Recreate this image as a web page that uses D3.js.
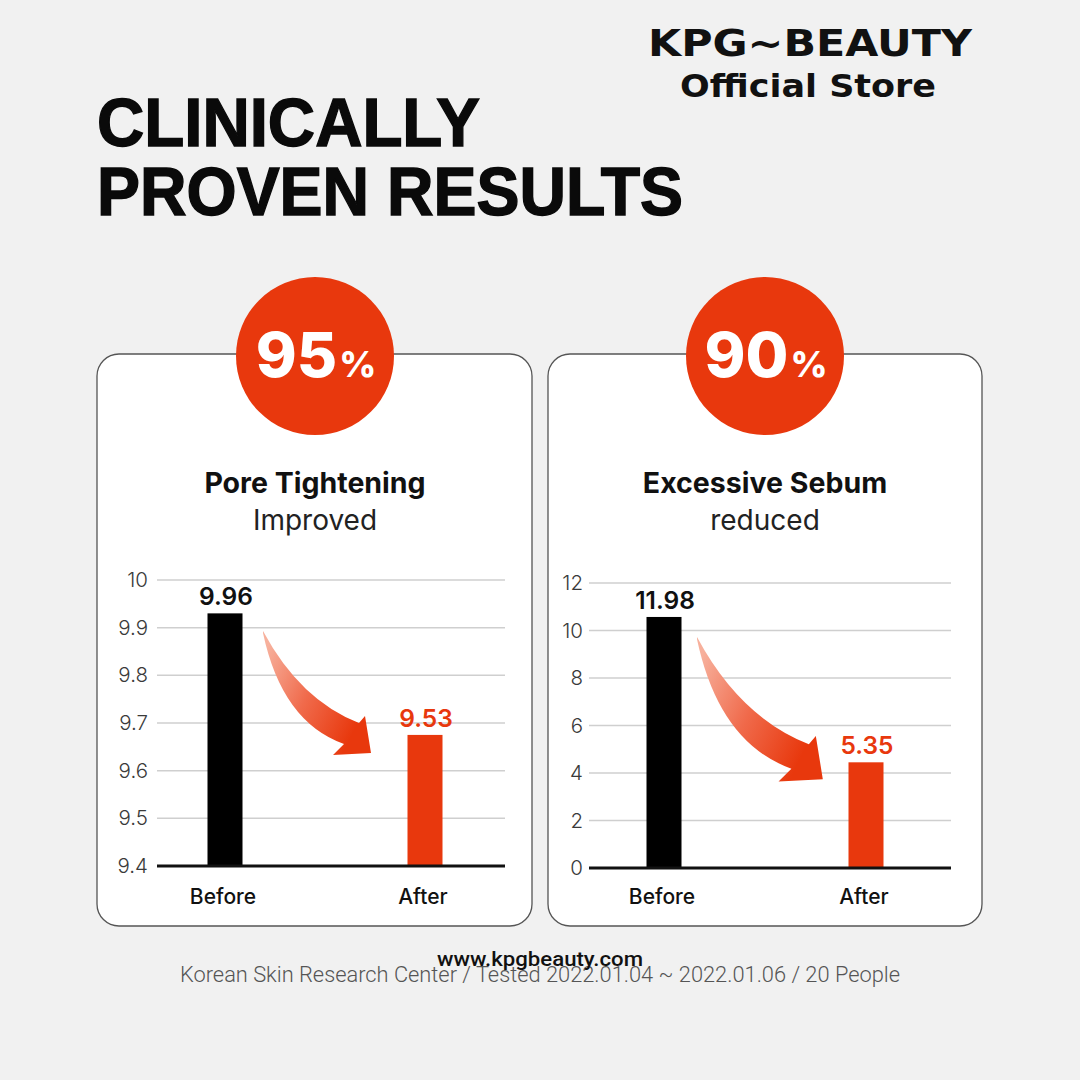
<!DOCTYPE html>
<html>
<head>
<meta charset="utf-8">
<script src="https://cdn.jsdelivr.net/npm/d3@7"></script>
<style>
  body { margin: 0; background: #f1f1f1; }
</style>
</head>
<body>
<div id="chart"></div>
<script>
// data
const categories = ['Before', 'After'];
const panelTitles = ['Pore Tightening', 'Excessive Sebum'];
const panelSubtitles = ['Improved', 'reduced'];
const percentValues = ['95', '90'];

// bar heights as drawn, and the numbers printed above them
const poreBars = [9.93, 9.675];
const poreLabels = ['9.96', '9.53'];
const poreTicks = [9.4, 9.5, 9.6, 9.7, 9.8, 9.9, 10];

const sebumBars = [10.57, 4.45];
const sebumLabels = ['11.98', '5.35'];
const sebumTicks = [0, 2, 4, 6, 8, 10, 12];

const RED = '#e8380d';
const W = 1080, H = 1080;

// layout of the two cards
const panels = [
  {x: 97, w: 435, cx: 315, grid: [157, 505], yr: [866, 580], pts: [225, 425],
    tickX: 148, domain: [9.4, 10], ticks: poreTicks, bars: poreBars,
    labels: poreLabels, arrow: {x: 263, y: 631, s: 1}},
  {x: 548, w: 434, cx: 765, grid: [589, 951], yr: [868, 583], pts: [664, 866],
    tickX: 583, domain: [0, 12], ticks: sebumTicks, bars: sebumBars,
    labels: sebumLabels, arrow: {x: 697, y: 637, s: 1.165}},
];

const svg = d3.select('#chart').append('svg')
  .attr('width', W)
  .attr('height', H);

svg.append('rect')
  .attr('width', W).attr('height', H)
  .attr('fill', '#f1f1f1');

let grad = svg.append('defs').append('linearGradient')
  .attr('id', 'arrowGrad')
  .attr('x1', 0).attr('y1', 0.2).attr('x2', 0.9).attr('y2', 0.7);
grad.append('stop').attr('offset', 0).attr('stop-color', '#f7b09c');
grad.append('stop').attr('offset', 0.5).attr('stop-color', '#f06a4b');
grad.append('stop').attr('offset', 1).attr('stop-color', RED);

// brand text top right
svg.append('text')
  .attr('x', 648).attr('y', 56)
  .attr('textLength', 324).attr('lengthAdjust', 'spacingAndGlyphs')
  .style('font-family', 'DejaVu Sans').style('font-weight', 'bold')
  .style('font-size', '38px').attr('fill', '#111')
  .text('KPG~BEAUTY');

svg.append('text')
  .attr('x', 680).attr('y', 97)
  .attr('textLength', 256).attr('lengthAdjust', 'spacingAndGlyphs')
  .style('font-family', 'DejaVu Sans').style('font-weight', 'bold')
  .style('font-size', '32px').attr('fill', '#111')
  .text('Official Store');

// headline
[['CLINICALLY', 146, 383], ['PROVEN RESULTS', 215, 586]].forEach(function(d) {
  svg.append('text')
    .attr('x', 97).attr('y', d[1])
    .attr('textLength', d[2]).attr('lengthAdjust', 'spacingAndGlyphs')
    .style('font-family', 'Liberation Sans').style('font-weight', 'bold')
    .style('font-size', '68px').attr('fill', '#0a0a0a')
    .attr('stroke', '#0a0a0a').attr('stroke-width', 1.4)
    .text(d[0]);
});

panels.forEach(function(p, i) {
  let g = svg.append('g');

  g.append('rect')
    .attr('x', p.x).attr('y', 354)
    .attr('width', p.w).attr('height', 572)
    .attr('rx', 22)
    .attr('fill', '#fff')
    .attr('stroke', '#555')
    .attr('stroke-width', 1.3);

  g.append('circle')
    .attr('cx', p.cx).attr('cy', 356).attr('r', 79)
    .attr('fill', RED);

  let pct = g.append('text')
    .attr('x', p.cx + 1).attr('y', 377)
    .attr('text-anchor', 'middle')
    .style('font-family', 'Inter').style('font-weight', 800)
    .attr('fill', '#fff');
  pct.append('tspan').style('font-size', '62px').text(percentValues[i]);
  pct.append('tspan').style('font-size', '36px').attr('dx', 2).text('%');

  g.append('text')
    .attr('x', p.cx).attr('y', 493)
    .attr('text-anchor', 'middle')
    .style('font-family', 'Inter').style('font-weight', 700)
    .style('font-size', '28.5px').attr('fill', '#111')
    .text(panelTitles[i]);

  g.append('text')
    .attr('x', p.cx).attr('y', 530)
    .attr('text-anchor', 'middle')
    .style('font-family', 'Inter').style('font-weight', 400)
    .style('font-size', '28px').attr('fill', '#222')
    .text(panelSubtitles[i]);

  let y = d3.scaleLinear().domain(p.domain).range(p.yr);
  let x = d3.scalePoint().domain(categories).range(p.pts);

  // grid lines
  g.selectAll('.grid')
    .data(p.ticks.slice(1))
    .enter().append('line')
    .attr('x1', p.grid[0]).attr('x2', p.grid[1])
    .attr('y1', function(d) { return y(d); })
    .attr('y2', function(d) { return y(d); })
    .attr('stroke', '#cfcfcf')
    .attr('stroke-width', 1.5);

  g.selectAll('.tick')
    .data(p.ticks)
    .enter().append('text')
    .attr('x', p.tickX)
    .attr('y', function(d) { return y(d) + 7; })
    .attr('text-anchor', 'end')
    .style('font-family', 'Inter').style('font-weight', 300)
    .style('font-size', '20.5px').attr('fill', '#3a3a3a')
    .text(function(d) { return String(d); });

  // bars
  g.selectAll('.bar')
    .data(p.bars)
    .enter().append('rect')
    .attr('x', function(d, j) { return x(categories[j]) - 17.5; })
    .attr('y', function(d) { return y(d); })
    .attr('width', 35)
    .attr('height', function(d) { return y(p.domain[0]) - y(d); })
    .attr('fill', function(d, j) { return j === 0 ? '#000' : RED; });

  g.selectAll('.vlabel')
    .data(p.labels)
    .enter().append('text')
    .attr('x', function(d, j) { return x(categories[j]) + 1; })
    .attr('y', function(d, j) { return y(p.bars[j]) - 8; })
    .attr('text-anchor', 'middle')
    .style('font-family', 'Inter').style('font-weight', 600)
    .style('font-size', '24.5px')
    .attr('fill', function(d, j) { return j === 0 ? '#111' : RED; })
    .text(function(d) { return d; });

  // baseline
  g.append('line')
    .attr('x1', p.grid[0]).attr('x2', p.grid[1])
    .attr('y1', y(p.domain[0])).attr('y2', y(p.domain[0]))
    .attr('stroke', '#111')
    .attr('stroke-width', 3);

  g.selectAll('.cat')
    .data(categories)
    .enter().append('text')
    .attr('x', function(d) { return x(d) - 2; })
    .attr('y', 904)
    .attr('text-anchor', 'middle')
    .style('font-family', 'Inter').style('font-weight', 500)
    .style('font-size', '21px').attr('fill', '#111')
    .text(function(d) { return d; });

  // curved arrow
  g.append('path')
    .attr('transform', 'translate(' + p.arrow.x + ',' + p.arrow.y +
      ') scale(' + p.arrow.s + ')')
    .attr('d', 'M0,0 Q37,69 96,92 L102,85 L108,122 L70,124 L81,113 ' +
      'Q19,91 0,2 Z')
    .attr('fill', 'url(#arrowGrad)');
});

// footer
svg.append('text')
  .attr('x', 180).attr('y', 982)
  .attr('textLength', 720).attr('lengthAdjust', 'spacingAndGlyphs')
  .style('font-family', 'Roboto').style('font-weight', 300)
  .style('font-size', '22px').attr('fill', '#555')
  .text('Korean Skin Research Center / Tested 2022.01.04 ~ 2022.01.06 / 20 People');

svg.append('text')
  .attr('x', 437).attr('y', 966)
  .attr('textLength', 206).attr('lengthAdjust', 'spacingAndGlyphs')
  .style('font-family', 'Roboto').style('font-weight', 500)
  .style('font-size', '21px').attr('fill', '#111')
  .text('www.kpgbeauty.com');
</script>
</body>
</html>
